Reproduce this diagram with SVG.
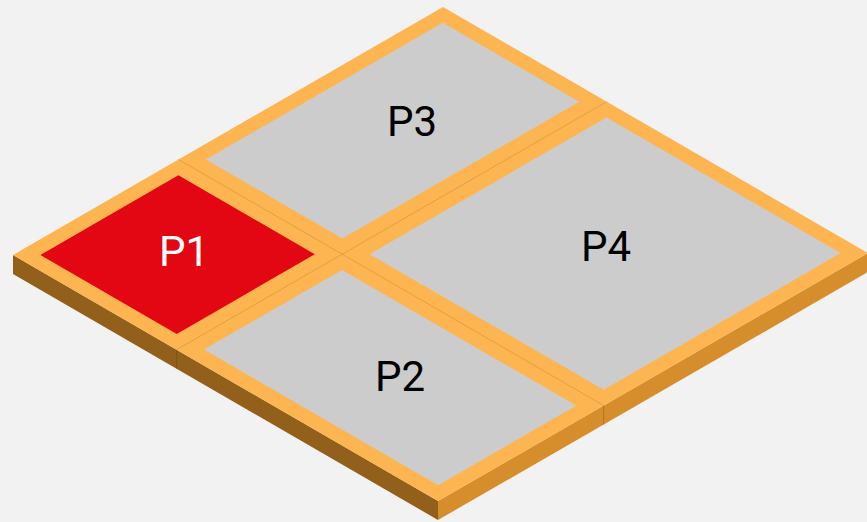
<svg xmlns="http://www.w3.org/2000/svg" width="867" height="522" viewBox="0 0 867 522">
  <style>
    .top { fill: #FDB551; }
    .sideL { fill: #93601B; }
    .sideR { fill: #D68D2C; }
    .seam { stroke: #D9963C; stroke-width: 1; stroke-opacity: 0.7; fill: none; }
    .seamS { stroke: #6E4510; stroke-width: 1; stroke-opacity: 0.5; fill: none; }
    .seamS2 { stroke: #A8681A; stroke-width: 1; stroke-opacity: 0.7; fill: none; }
    .panel { fill: #CCCCCC; }
    .red { fill: #E30613; }
    .lbl { font-family: Roboto, "Liberation Sans", sans-serif; font-size: 42px; text-anchor: middle; fill: #000000; }
  </style>
  <rect x="0" y="0" width="867" height="522" fill="#F2F2F2"/>
  <g id="base">
    <polygon class="sideL" points="13,255 438,501 438,520 13,274"/>
    <polygon class="sideR" points="438,501 868,253 868,272 438,520"/>
    <polygon class="top" points="13,255 443,7 868,253 438,501"/>
    <line class="seamS" x1="176.6" y1="349.7" x2="176.6" y2="368.7"/>
    <line class="seamS2" x1="603.6" y1="405.5" x2="603.6" y2="424.5"/>
    <line class="seam" x1="178.6" y1="159.5" x2="603.6" y2="405.5"/>
    <line class="seam" x1="176.6" y1="349.7" x2="606.6" y2="101.7"/>
  </g>
  <g id="P1">
    <polygon class="red" points="40.4,254.9 178.4,175.3 314.8,254.3 176.8,333.9"/>
    <text class="lbl" x="184" y="266" fill="#FFFFFF" style="fill:#FFFFFF">P1</text>
  </g>
  <g id="P3">
    <polygon class="panel" points="205.9,159.5 442.8,22.8 579.3,101.8 342.3,238.4"/>
    <text class="lbl" x="412" y="136">P3</text>
  </g>
  <g id="P2">
    <polygon class="panel" points="204.0,349.6 342.0,270.0 576.2,405.6 438.2,485.2"/>
    <text class="lbl" x="400" y="391">P2</text>
  </g>
  <g id="P4">
    <polygon class="panel" points="369.5,254.2 606.5,117.5 840.6,253.1 603.7,389.7"/>
    <text class="lbl" x="606" y="261">P4</text>
  </g>
</svg>
